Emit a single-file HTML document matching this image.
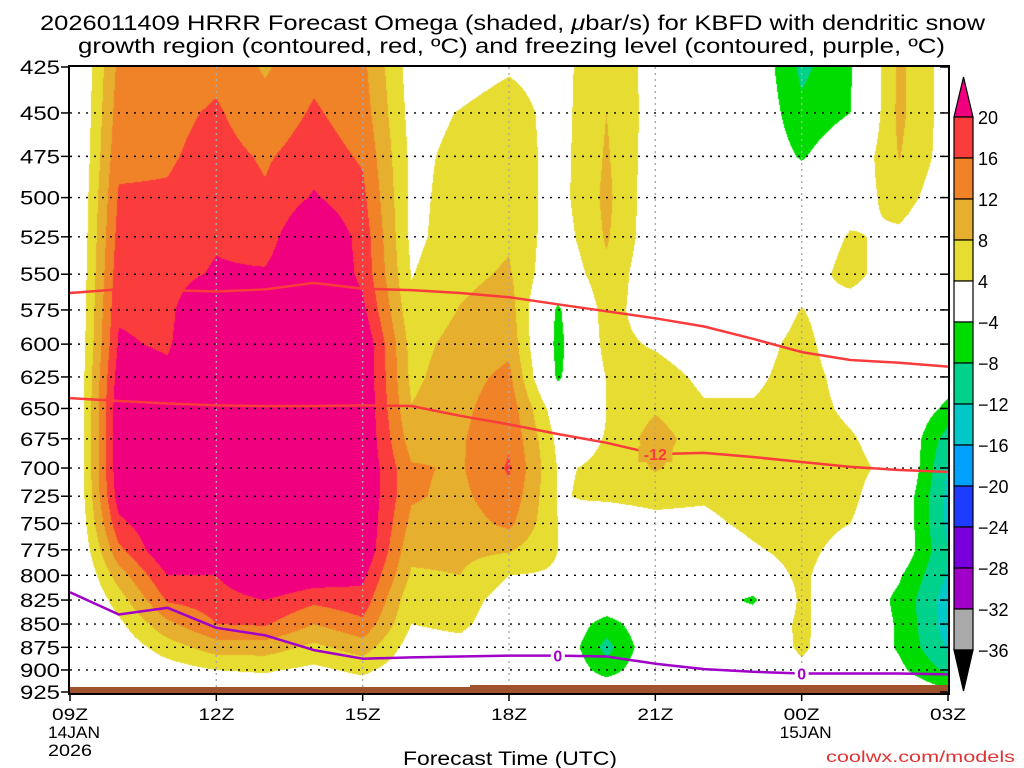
<!DOCTYPE html>
<html><head><meta charset="utf-8">
<style>
html,body{margin:0;padding:0;background:#fff;}
#wrap{position:relative;width:1024px;height:768px;overflow:hidden;background:#fff;font-family:"Liberation Sans",sans-serif;}
#field{position:absolute;left:70px;top:67px;}
#over{position:absolute;left:0;top:0;}
</style></head>
<body>
<div id="wrap">
<canvas id="field" width="878" height="625"></canvas>
<svg id="over" width="1024" height="768" xmlns="http://www.w3.org/2000/svg">
<text x="40" y="30" font-size="21" textLength="945" lengthAdjust="spacingAndGlyphs" fill="#000">2026011409 HRRR Forecast Omega (shaded, <tspan font-style="italic">μ</tspan>bar/s) for KBFD with dendritic snow</text>
<text x="78" y="53" font-size="21" textLength="867" lengthAdjust="spacingAndGlyphs" fill="#000">growth region (contoured, red, ºC) and freezing level (contoured, purple, ºC)</text>
<g id="grid"></g>
<g id="lines"></g>
<g id="axes"></g>
<g id="cbar"></g>
<text x="510" y="765" font-size="19" text-anchor="middle" textLength="214" lengthAdjust="spacingAndGlyphs">Forecast Time (UTC)</text>
<text x="826" y="762" font-size="16" textLength="189" lengthAdjust="spacingAndGlyphs" fill="#e03232">coolwx.com/models</text>
</svg>
</div>
<script>
// ---- data: omega (µbar/s) per forecast hour, levels 425..925 hPa step 25 ----
const levels = [425,450,475,500,525,550,575,600,625,650,675,700,725,750,775,800,825,850,875,900,925];
const hourLabels = ["09Z","10Z","11Z","12Z","13Z","14Z","15Z","16Z","17Z","18Z","19Z","20Z","21Z","22Z","23Z","00Z","01Z","02Z","03Z"];
const omega09Z = [-3.5,-3.5,-3.5,-3.5,-3.5,-3.5,-3.5,-3.5,-3.5,-3.5,-3.5,-3.5,-3.5,-3.5,-3.5,-3.5,-3.5,-3.5,-3.5,-3.5,-3.5];
const omega10Z = [13,14,15,16.5,17.5,18.5,19.5,20.5,22,23,23,23,22,19,15,10,6,3,1,0,0];
const omega11Z = [14,15,15.5,16.5,17.5,18.5,19,19.5,21,24,24,24,24,24,24,20,16.5,11,6,2,0];
const omega12Z = [15,16.5,17.5,18.5,19.5,20.5,25,25,25,25,25,25,25,25,25,20,18,16,10,4,1];
const omega13Z = [11.5,13.5,15.5,16.5,18,20.5,25,25,25,25,25,25,25,25,25,25,20,16.5,10,4.5,1];
const omega14Z = [15,16.5,18,20.5,25,25,25,25,25,25,25,25,25,25,25,23,17,12,7,3,1];
const omega15Z = [13,14,15.5,17,18.5,19,21,24,24,24,24,24,24,24,24,21,18.5,15,10,5,1];
const omega16Z = [2,2.5,3,3,3,3.8,5,6.5,7,8.2,10,12.5,12.5,11,9,7.5,5,4,2,1,0];
const omega17Z = [2,4.2,5,5.5,6,7,8.2,9.5,10.5,11,11.5,11.5,11,10,9,8,6,5,2.5,1,0];
const omega18Z = [3.5,6,6.5,6.5,7.5,8.5,10,11,13,14.5,15.5,16.5,15,13,8.5,4,2,1,0,0,0];
const omega19Z = [2.3,2.3,2.3,2.3,1.5,0,-4.8,-5.5,-4.8,1,3,3.8,3.8,4,4,3.5,1,0.5,0.5,0.5,0];
const omega20Z = [7.5,8,8.5,9,8.5,7,6,5.5,4.2,4,4.1,4.3,4.5,2,0,0,0,-6,-9.5,-6,0];
const omega21Z = [2,2,1.5,1,1,0.5,1,3.5,6,7.5,10,8.5,5,3,2,1,0,0,0,0,0];
const omega22Z = [0,0,0,0,0,0,0,1,3,4.5,5.5,5,4.5,3,1,0,-1,0.5,0,0,0];
const omega23Z = [0,0,0,0,0,0,0,2,3,4.5,5.5,6,6,5,3.5,1,-5,0,0,0,0];
const omega00Z = [-9,-7,-4.5,0,0,1,4.2,5.5,6,6,6.5,6.5,6.5,6,5.5,5,5,5,4.8,3,1];
const omega01Z = [-4.5,-4,0,1.5,4.5,6,1,0.5,2,3,4.5,5.5,5,4,2,0,0,0,0,0,0];
const omega02Z = [9,9,8.2,6,3,0,0,0,0,0.5,1,2,0,0,0,-3.5,-5,-4.5,-4.5,-3,0];
const omega03Z = [2,2,2,1,0,0,0,0,-2,-5,-10,-12.5,-13,-13,-12,-12.5,-14,-14,-12.5,-9,-3];
const omegaColumns = [omega09Z,omega10Z,omega11Z,omega12Z,omega13Z,omega14Z,omega15Z,omega16Z,omega17Z,omega18Z,omega19Z,omega20Z,omega21Z,omega22Z,omega23Z,omega00Z,omega01Z,omega02Z,omega03Z];
// isotherm pressures (hPa) per hour
const isoMinus12Upper = [563,560.5,561,562,560.5,556,560,561,563,566,571,576,581,587,596,606,612,614,617];
const isoMinus12Lower = [641.7,644,646,647.5,648,648,647.5,648,656,663,671,678.4,688,687,690.5,694.8,699,701.7,703.4];
const isoZero = [817,840,833,854,862,878,887.5,886,885,884,884,885,893,899,902,904,904,904,905];
// colorbar
const cbarLevels = [20,16,12,8,4,-4,-8,-12,-16,-20,-24,-28,-32,-36];
const cbarColors = ["#f0007f","#fa3c3c","#f08228","#e6af2d","#e6dc32","#ffffff","#00dc00","#00d28c","#00c8c8","#00a0ff","#1e3cff","#7800dc","#a000c8","#aaaaaa","#000000"];
const yTicks = [425,450,475,500,525,550,575,600,625,650,675,700,725,750,775,800,825,850,875,900,925];
const xTickHours = [0,3,6,9,12,15,18];
const xTickLabels = ["09Z","12Z","15Z","18Z","21Z","00Z","03Z"];
const xTickSub1 = ["14JAN","","","","","15JAN",""];
const xTickSub2 = ["2026","","","","","",""];

// ---- scales ----
const X0=70, X1=948, Y0=67, Y1=692, NH=18;
const xs = h => X0 + (X1-X0)*h/NH;
const LNR = Math.log(925/425);
const ys = p => Y0 + (Y1-Y0)*Math.log(p/425)/LNR;
const pAt = y => 425*Math.exp((y-Y0)/(Y1-Y0)*LNR);
function colorFor(v){
  if(v>=20) return cbarColors[0];
  for(let i=0;i<cbarLevels.length;i++){ if(v>=cbarLevels[i]) return cbarColors[i]; }
  return cbarColors[cbarColors.length-1];
}
function hex(c){return [parseInt(c.substr(1,2),16),parseInt(c.substr(3,2),16),parseInt(c.substr(5,2),16)];}

// ---- shading ----
(function(){
  const cv=document.getElementById('field'), ctx=cv.getContext('2d');
  const W=cv.width,H=cv.height, img=ctx.createImageData(W,H);
  const cache={};
  const nL=levels.length, step=levels[1]-levels[0];
  for(let py=0;py<H;py++){
    const p=pAt(Y0+py+0.5);
    let k=(p-levels[0])/step; if(k<0)k=0; if(k>nL-1)k=nL-1;
    const k0=Math.min(Math.floor(k),nL-2), fk=k-k0;
    for(let px=0;px<W;px++){
      let t=(px+0.5)/(X1-X0)*NH; if(t>NH)t=NH;
      const i0=Math.min(Math.floor(t),NH-1), ft=t-i0;
      const a=omegaColumns[i0], b=omegaColumns[i0+1];
      const v=(a[k0]*(1-fk)+a[k0+1]*fk)*(1-ft)+(b[k0]*(1-fk)+b[k0+1]*fk)*ft;
      const c=colorFor(v); const rgb=cache[c]||(cache[c]=hex(c));
      const o=(py*W+px)*4; img.data[o]=rgb[0];img.data[o+1]=rgb[1];img.data[o+2]=rgb[2];img.data[o+3]=255;
    }
  }
  ctx.putImageData(img,0,0);
})();

const NS="http://www.w3.org/2000/svg";
function mk(tag,attrs,parent){const e=document.createElementNS(NS,tag);for(const k in attrs)e.setAttribute(k,attrs[k]);parent.appendChild(e);return e;}

// ---- grid ----
const grid=document.getElementById('grid');
yTicks.forEach(p=>{
  if(p===425||p===925) return;
  const l=mk('line',{x1:X0,x2:X1,y1:ys(p),y2:ys(p),stroke:'#000','stroke-width':1.4,'stroke-dasharray':'2,6'},grid);
  
  
});
xTickHours.forEach(h=>{
  if(h===0||h===NH) return;
  const l=mk('line',{x1:xs(h),x2:xs(h),y1:Y0,y2:Y1,stroke:'#aaa','stroke-width':1.4,'stroke-dasharray':'2,4'},grid);
  
  
});

// ---- contour lines ----
const lines=document.getElementById('lines');
function pline(arr,color,name){
  const pts=arr.map((p,i)=>xs(i).toFixed(1)+','+ys(p).toFixed(1)).join(' ');
  const e=mk('polyline',{points:pts,fill:'none',stroke:color,'stroke-width':2.5,'stroke-linejoin':'round'},lines);
  
  
}
pline(isoMinus12Upper,'#fa3c3c','isotherm-minus12-upper');
pline(isoMinus12Lower,'#fa3c3c','isotherm-minus12-lower');
pline(isoZero,'#a000c8','freezing-level-line');
function lbl(txt,h,p,color,name,bg){
  const r=mk('rect',{x:xs(h)-(txt.length*5+2),y:ys(p)-8,width:txt.length*10+4,height:16,fill:bg},lines);
  
  
  const t=mk('text',{x:xs(h),y:ys(p)+6,'font-size':16,'font-weight':'bold','text-anchor':'middle',fill:color},lines);
  t.textContent=txt;
  
  
}
lbl('-12',12,isoMinus12Lower[12],'#fa3c3c','isotherm-label-minus12','#e6af2d');
lbl('0',10,isoZero[10],'#a000c8','freezing-label-0a','#ffffff');
lbl('0',15,isoZero[15],'#a000c8','freezing-label-0b','#ffffff');

// ---- axes ----
const axes=document.getElementById('axes');
let g=mk('rect',{x:X0,y:687,width:X1-X0,height:7,fill:'#a0522d'},axes);


g=mk('rect',{x:470,y:685,width:X1-470,height:3,fill:'#a0522d'},axes);


const fr=mk('rect',{x:69,y:66,width:880,height:628,fill:'none',stroke:'#000','stroke-width':2},axes);


yTicks.forEach(p=>{
  const y=Math.min(ys(p),692);
  const t=mk('line',{x1:61,x2:69,y1:y,y2:y,stroke:'#000','stroke-width':1.5},axes);
  
  
  const t2=mk('line',{x1:940,x2:949,y1:y,y2:y,stroke:'#000','stroke-width':1.5},axes);
  
  
  const tx=mk('text',{x:60,y:y+7,'font-size':19,'text-anchor':'end',textLength:40,lengthAdjust:'spacingAndGlyphs'},axes);
  tx.textContent=String(p);
  
  
});
xTickHours.forEach((h,i)=>{
  const x=xs(h);
  const t=mk('line',{x1:x,x2:x,y1:694,y2:701,stroke:'#000','stroke-width':1.5},axes);
  
  
  const a=mk('text',{x:x,y:720,'font-size':17,'text-anchor':'middle',textLength:36,lengthAdjust:'spacingAndGlyphs'},axes);
  a.textContent=xTickLabels[i];
  
  
  if(xTickSub1[i]){
    const b=mk('text',{x:x-22,y:738,'font-size':17,textLength:52,lengthAdjust:'spacingAndGlyphs'},axes);
    b.textContent=xTickSub1[i];
    
    
  }
  if(xTickSub2[i]){
    const c=mk('text',{x:x-22,y:756,'font-size':17,textLength:44,lengthAdjust:'spacingAndGlyphs'},axes);
    c.textContent=xTickSub2[i];
    
    
  }
});

// ---- colorbar ----
const cb=document.getElementById('cbar');
const CBX=954, CBW=19, CBTOP=117, CBH=41;
let tri=mk('polygon',{points:`${CBX},${CBTOP} ${CBX+CBW},${CBTOP} ${CBX+CBW/2},77`,fill:cbarColors[0],stroke:'#000','stroke-width':1.2},cb);


for(let i=1;i<cbarColors.length-1;i++){
  const r=mk('rect',{x:CBX,y:CBTOP+(i-1)*CBH,width:CBW,height:CBH,fill:cbarColors[i],stroke:'#000','stroke-width':1.2},cb);
  
  
}
const yb=CBTOP+(cbarColors.length-2)*CBH;
tri=mk('polygon',{points:`${CBX},${yb} ${CBX+CBW},${yb} ${CBX+CBW/2},${yb+41}`,fill:'#000',stroke:'#000','stroke-width':1.2},cb);


cbarLevels.forEach((v,i)=>{
  const t=mk('text',{x:978,y:CBTOP+i*CBH+7,'font-size':18},cb);
  t.textContent=v<0?('\u2212'+(-v)):String(v);
  
  
});
</script>
</body></html>
